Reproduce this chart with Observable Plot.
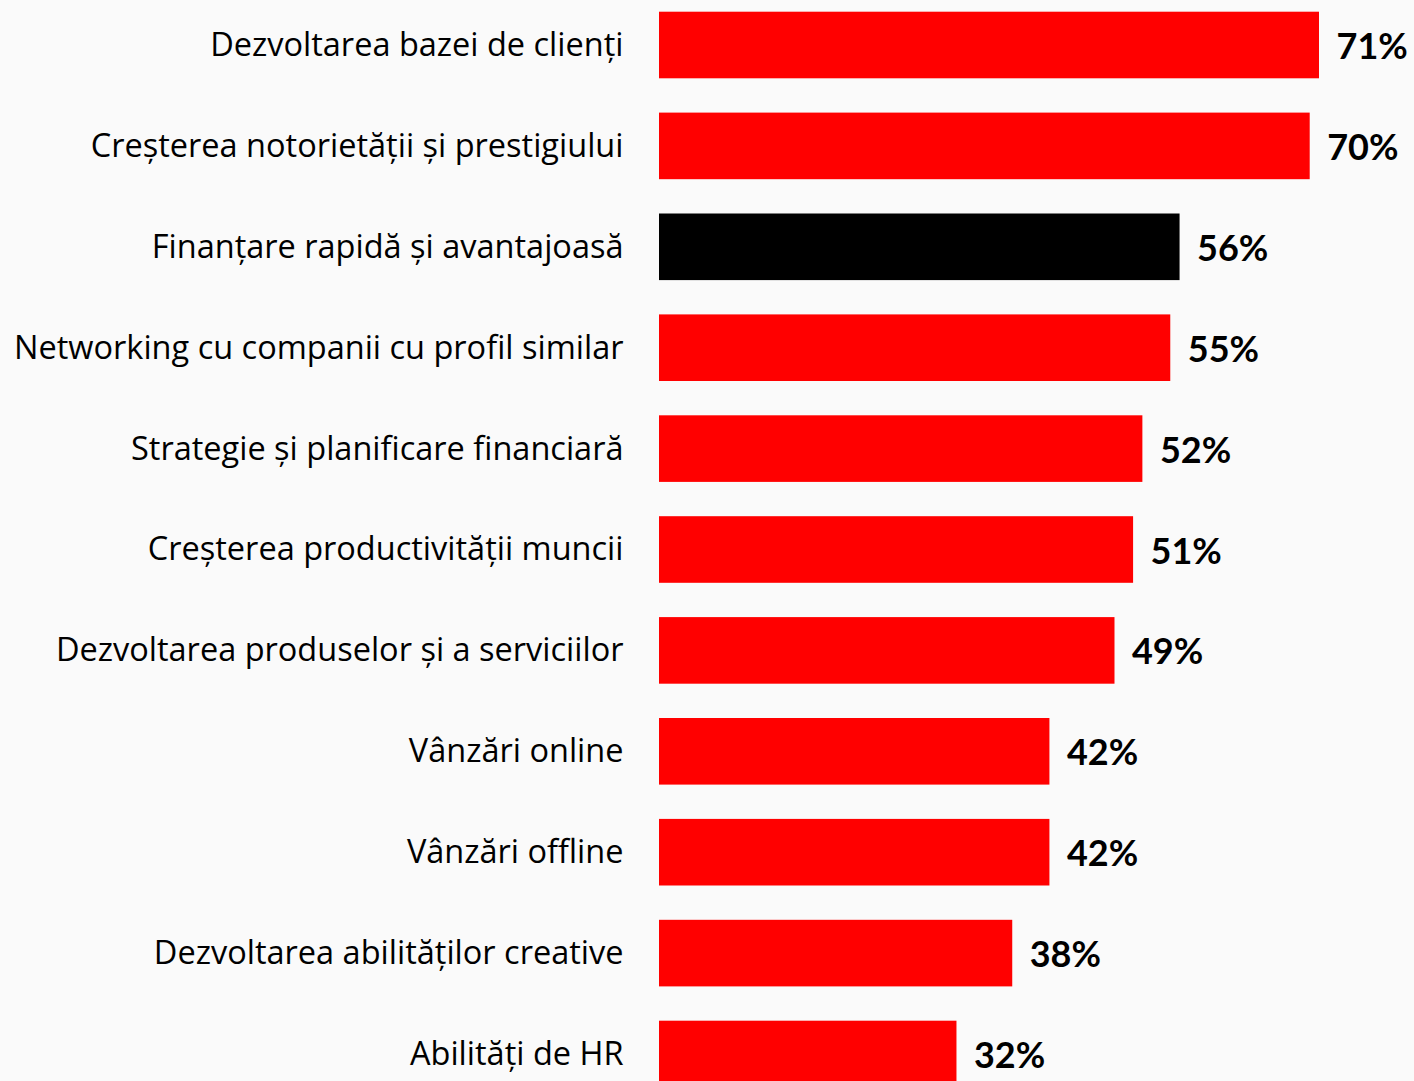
<!DOCTYPE html>
<html>
<head>
<meta charset="utf-8">
<script src="https://cdn.jsdelivr.net/npm/d3@7"></script>
<script src="https://cdn.jsdelivr.net/npm/@observablehq/plot@0.6"></script>
<style>
  html, body { margin: 0; padding: 0; background: #fafafa; overflow: hidden; width: 1414px; height: 1081px; }
  #chart svg { overflow: hidden; display: block; }
</style>
</head>
<body>
<div id="chart"></div>
<script>
const categories = [
  "Dezvoltarea bazei de clienți",
  "Creșterea notorietății și prestigiului",
  "Finanțare rapidă și avantajoasă",
  "Networking cu companii cu profil similar",
  "Strategie și planificare financiară",
  "Creșterea productivității muncii",
  "Dezvoltarea produselor și a serviciilor",
  "Vânzări online",
  "Vânzări offline",
  "Dezvoltarea abilităților creative",
  "Abilități de HR"
];
const values = [71, 70, 56, 55, 52, 51, 49, 42, 42, 38, 32];
const highlighted = ["Finanțare rapidă și avantajoasă"];

const data = categories.map((c, i) => ({category: c, value: values[i]}));

const chart = Plot.plot({
  width: 1414,
  height: 1081,
  marginLeft: 659,
  marginRight: 95,
  marginTop: 0,
  marginBottom: 0,
  style: {background: "#fafafa", fontFamily: "'Open Sans', sans-serif", overflow: "hidden"},
  x: {domain: [0, 71], axis: null},
  y: {domain: categories, range: [-5.45, 1104.45], paddingInner: 0.34, paddingOuter: 0.17, round: false, axis: null},
  marks: [
    Plot.barX(data, {
      y: "category",
      x: "value",
      fill: d => highlighted.includes(d.category) ? "#000000" : "#ff0000"
    }),
    Plot.axisY({
      tickSize: 0,
      tickPadding: 36,
      fontSize: 32.5,
      fill: "#000",
      label: null
    }),
    Plot.text(data, {
      y: "category",
      x: "value",
      text: d => d.value + "%",
      textAnchor: "start",
      dx: 17,
      dy: 2,
      fontSize: 36,
      fontFamily: "Lato, sans-serif",
      fontWeight: "bold",
      fill: "#000"
    })
  ]
});
document.getElementById("chart").appendChild(chart);
</script>
</body>
</html>
